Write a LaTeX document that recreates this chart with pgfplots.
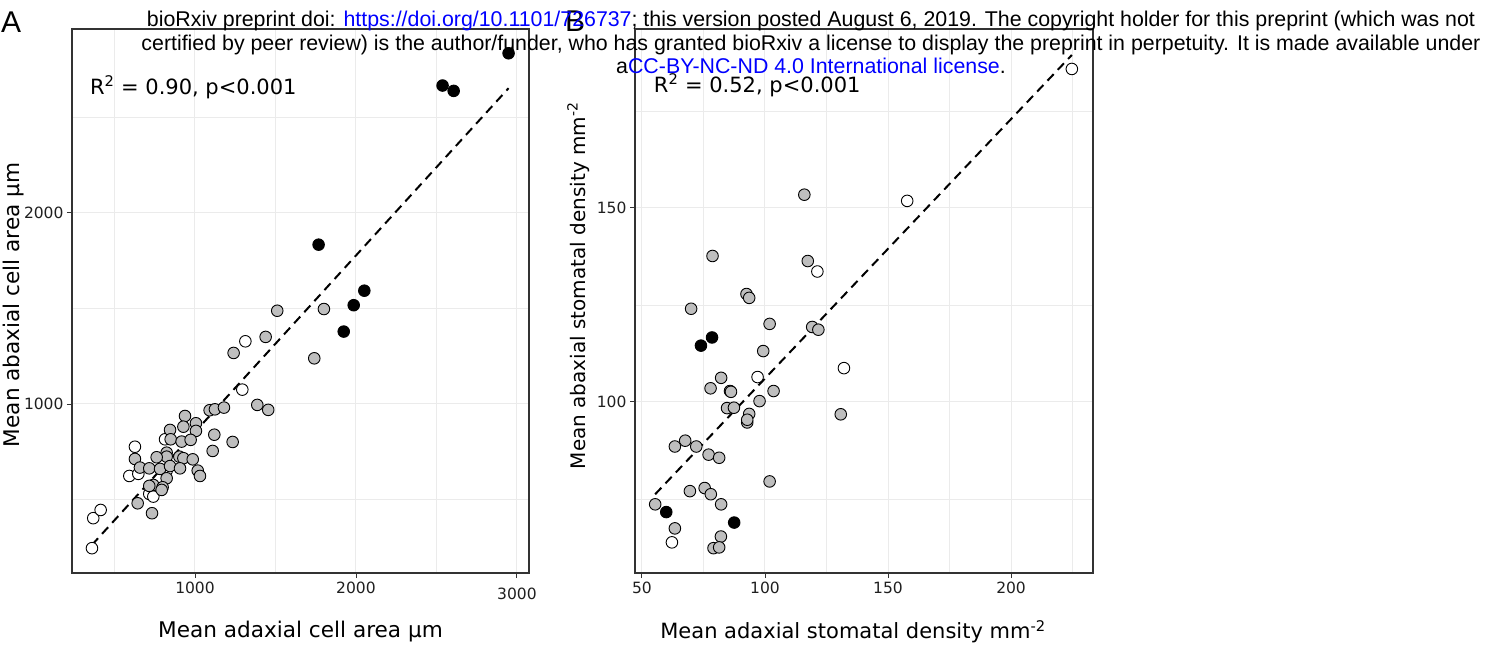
\documentclass[border=0pt]{standalone}
\usepackage{fontspec}
\setmainfont{DejaVu Sans}
\newfontfamily\arialfont{Liberation Sans}
\usepackage{pgfplots}
\pgfplotsset{compat=1.18}
\definecolor{ptgray}{RGB}{190,190,190}
\definecolor{gridc}{RGB}{235,235,235}
\definecolor{framec}{RGB}{51,51,51}
\definecolor{linkblue}{RGB}{0,0,255}

\pgfplotstableread{
x y
360 245
368 402
414 445
592 623
648 634
627 776
814 815
824 651
716 529
741 515
1294 1075
1313 1328
}\Awhite
\pgfplotstableread{
x y
1511 1488
1801 1497
1439 1351
1240 1267
1741 1239
1387 995
1455 969
1091 967
1124 972
1180 981
938 937
928 881
1006 899
1006 859
845 864
849 815
917 803
973 812
1120 839
1234 801
1110 754
627 712
824 745
824 724
762 721
903 724
928 716
986 710
658 667
716 663
783 660
845 675
907 663
1017 651
1031 623
824 611
741 576
716 571
799 564
793 550
644 480
733 428
}\Agray
\pgfplotstableread{
x y
2948 2836
2538 2667
2607 2639
1768 1834
2052 1593
1986 1517
1924 1379
}\Ablack
\pgfplotstableread{
x y
224.7 185.8
157.8 151.8
121.3 133.6
132.1 108.7
97.0 106.4
62.2 63.8
}\Bwhite
\pgfplotstableread{
x y
116.0 153.4
78.7 137.6
117.4 136.3
92.5 127.8
93.6 126.8
70.0 124.0
101.9 120.1
119.2 119.3
121.7 118.6
99.3 113.1
82.2 106.2
77.9 103.5
85.8 102.8
86.2 102.6
103.5 102.8
97.8 100.2
84.6 98.4
87.4 98.5
93.6 96.9
92.8 94.7
92.8 95.4
130.8 96.8
67.6 90.0
63.4 88.5
72.1 88.5
77.1 86.4
81.4 85.6
101.9 79.5
75.5 77.8
69.5 77.0
78.0 76.2
55.4 73.6
82.2 73.6
63.4 67.4
82.1 65.3
79.1 62.3
81.4 62.5
}\Bgray
\pgfplotstableread{
x y
78.5 116.6
74.0 114.5
59.9 71.6
87.5 68.9
}\Bblack

\begin{document}
\begin{tikzpicture}
\useasboundingbox (0pt,0pt) rectangle (1485pt,646pt);
\pgfplotsset{
  myaxis/.style={
    scale only axis,
    anchor=south west,
    axis line style={framec, line width=1.1pt},
    tick style={framec, line width=0.9pt},
    tick align=outside,
    xtick pos=bottom, ytick pos=left,
    major tick length=5pt,
    minor tick length=0pt,
    grid=both,
    major grid style={gridc, line width=1pt},
    minor grid style={gridc, line width=0.7pt},
    tick label style={font=\fontsize{15.5}{18}\selectfont, text=black!88},
    label style={font=\fontsize{21.6}{25}\selectfont},
  },
  pw/.style={only marks, mark=*, mark size=5.8pt, mark options={draw=black, fill=white, line width=0.9pt}},
  pg/.style={only marks, mark=*, mark size=5.8pt, mark options={draw=black, fill=ptgray, line width=0.9pt}},
  pb/.style={only marks, mark=*, mark size=5.8pt, mark options={draw=black, fill=black, line width=0.9pt}},
  rl/.style={black, line width=2pt, dash pattern=on 9pt off 6pt},
}
% Panel A
\begin{axis}[myaxis,
  at={(72pt,73pt)}, width=457pt, height=544pt,
  xmin=236, xmax=3075, ymin=115, ymax=2963,
  xtick={1000,2000,3000}, xticklabels={1000,2000,\raisebox{-6pt}[\height]{3000}},
  ytick={1000,2000}, yticklabels={1000,2000},
  minor xtick={500,1500,2500}, minor ytick={500,1500,2500},
  xlabel={Mean adaxial cell area µm},
  ylabel={Mean abaxial cell area µm},
  xlabel style={at={(axis description cs:0.5,-0.108)}, anchor=center},
  ylabel style={at={(axis description cs:-0.127,0.493)}, anchor=center},
]
\addplot[pw] table {\Awhite};
\addplot[pg] table {\Agray};
\addplot[pb] table {\Ablack};
\addplot[rl] coordinates {(360,262) (2948,2653)};
\node[anchor=west, font=\fontsize{21}{24}\selectfont, inner sep=0] at (rel axis cs:0.039,0.893) {R\textsuperscript{2} = 0.90, p<0.001};
\end{axis}
% Panel B
\begin{axis}[myaxis,
  at={(635pt,73pt)}, width=458pt, height=544pt,
  xmin=47.2, xmax=233.3, ymin=55.9, ymax=196.1,
  xtick={50,100,150,200}, xticklabels={50,100,150,200},
  ytick={100,150}, yticklabels={100,150},
  minor xtick={75,125,175,225}, minor ytick={75,125,175},
  xlabel={Mean adaxial stomatal density mm\textsuperscript{-2}},
  ylabel={Mean abaxial stomatal density mm\textsuperscript{-2}},
  xlabel style={at={(axis description cs:0.476,-0.108)}, anchor=center, font=\fontsize{21}{25}\selectfont},
  ylabel style={at={(axis description cs:-0.124,0.528)}, anchor=center, font=\fontsize{20}{24}\selectfont},
]
\addplot[pw] table {\Bwhite};
\addplot[pg] table {\Bgray};
\addplot[pb] table {\Bblack};
\addplot[rl] coordinates {(55.4,76.2) (224.7,189.4)};
\node[anchor=west, font=\fontsize{21}{24}\selectfont, inner sep=0] at (rel axis cs:0.041,0.897) {R\textsuperscript{2} = 0.52, p<0.001};
\end{axis}
% panel letters
\node[anchor=north west, inner sep=0, font=\arialfont\fontsize{30}{30}\selectfont] at (1pt,634pt) {A};
\node[anchor=north west, inner sep=0, font=\arialfont\fontsize{30}{30}\selectfont] at (565pt,635pt) {B};
% header
\node[anchor=north, inner sep=0, align=center, font=\arialfont\fontsize{21.35}{23.5}\selectfont] at (811pt,635pt)
 {bioRxiv preprint doi: \textcolor{linkblue}{https://doi.org/10.1101/726737}; this version posted August 6, 2019. The copyright holder for this preprint (which was not\\
 certified by peer review) is the author/funder, who has granted bioRxiv a license to display the preprint in perpetuity. It is made available under\\
 a\textcolor{linkblue}{CC-BY-NC-ND 4.0 International license}.};
\end{tikzpicture}
\end{document}
